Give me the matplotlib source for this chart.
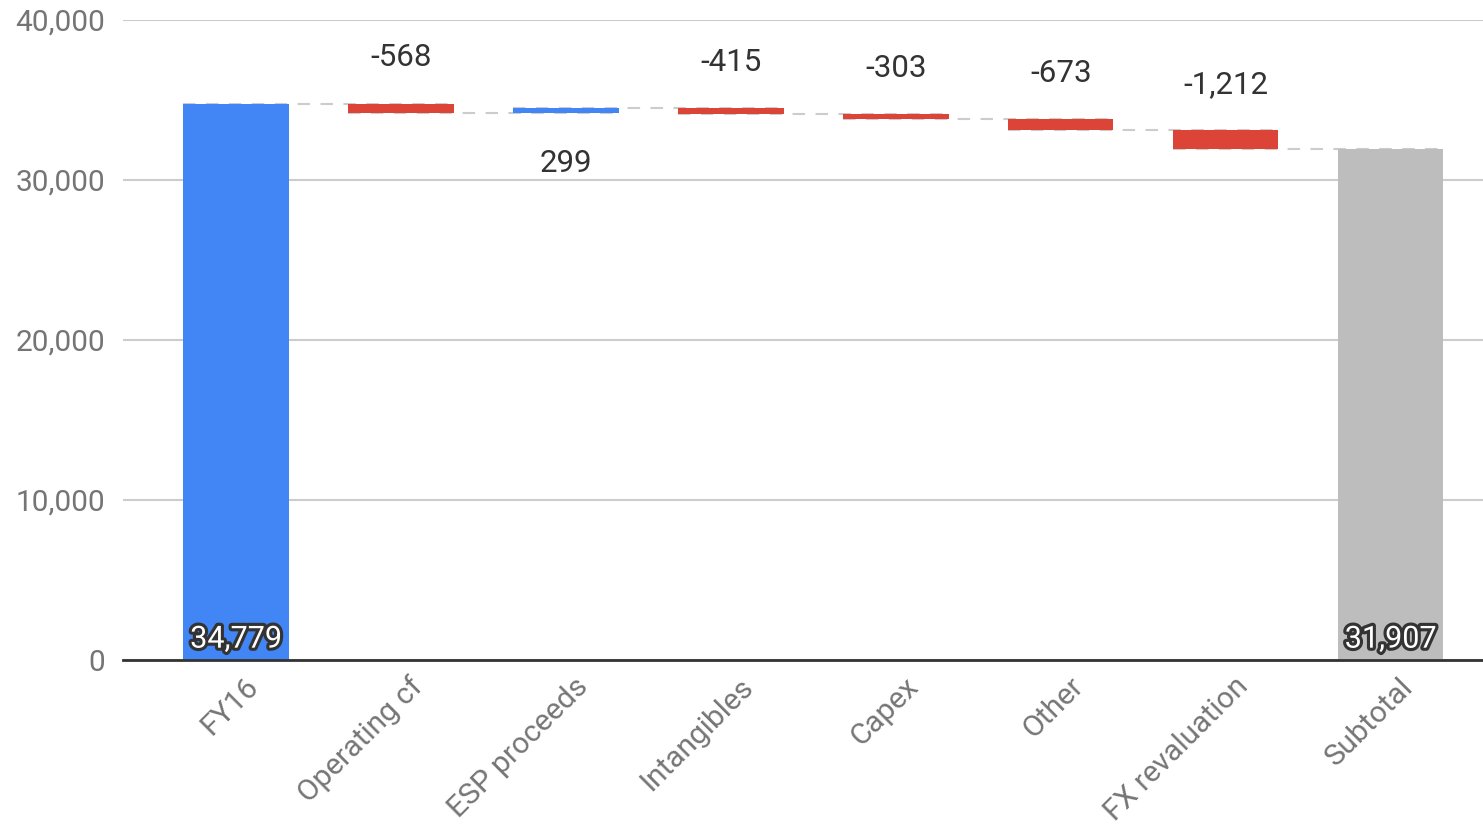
import matplotlib
matplotlib.use("Agg")
import matplotlib.pyplot as plt
import matplotlib.patheffects as pe
import matplotlib.transforms as mtransforms
from matplotlib.ticker import FuncFormatter

categories = ["FY16", "Operating cf", "ESP proceeds", "Intangibles", "Capex",
              "Other", "FX revaluation", "Subtotal"]
start_value = 34779
changes = [-568, 299, -415, -303, -673, -1212]
y_ticks = [0, 10000, 20000, 30000, 40000]

BLUE = "#4285F4"
RED = "#DB4437"
GREY = "#BDBDBD"

plt.rcParams["font.family"] = ["Roboto", "DejaVu Sans"]

fig = plt.figure(figsize=(14.83, 8.26), dpi=100)
ax = fig.add_axes([0.0829, 0.201, 0.9171, 0.7748])

width = 0.64
running = start_value
levels = [start_value]

# opening total
ax.bar(0, start_value, width=width, color=BLUE, zorder=3)

# step changes
for i, d in enumerate(changes, start=1):
    bottom = running if d >= 0 else running + d
    ax.bar(i, abs(d), bottom=bottom, width=width,
           color=BLUE if d >= 0 else RED, zorder=3)
    if d < 0:
        ax.text(i, running + 2850, f"{d:,}", ha="center", va="center",
                fontsize=22.5, color="#333333")
    else:
        ax.text(i, running - 3150, f"{d:,}", ha="center", va="center",
                fontsize=22.5, color="#333333")
    running += d
    levels.append(running)

# closing subtotal
n = len(categories) - 1
ax.bar(n, running, width=width, color=GREY, zorder=3)

# dashed connectors between consecutive bars
for i, lvl in enumerate(levels):
    ax.plot([i - width / 2, i + 1 + width / 2], [lvl, lvl], color="#CCCCCC",
            lw=1.5, ls=(0, (6, 5)), zorder=2)

# total labels inside bars
stroke = [pe.withStroke(linewidth=4.5, foreground="#333333")]
for x, v in [(0, start_value), (n, running)]:
    ax.text(x, 1300, f"{v:,}", ha="center", va="center", fontsize=22,
            color="white", path_effects=stroke, zorder=5)

ax.set_xlim(-0.685, 7.56)
ax.set_ylim(0, 40000)
ax.set_yticks(y_ticks)
ax.yaxis.set_major_formatter(FuncFormatter(lambda v, p: f"{int(v):,}"))
ax.grid(axis="y", color="#CCCCCC", lw=1.5, zorder=0)
ax.set_axisbelow(True)
for s in ["top", "right", "left"]:
    ax.spines[s].set_visible(False)
ax.spines["bottom"].set_color("#333333")
ax.spines["bottom"].set_linewidth(2)
ax.spines["bottom"].set_zorder(6)
ax.tick_params(axis="y", length=0, labelsize=21.5, labelcolor="#757575", pad=13)
ax.tick_params(axis="x", length=0, labelsize=21.5, labelcolor="#757575", pad=9)
ax.set_xticks(range(len(categories)))
ax.set_xticklabels(categories, rotation=45, ha="right", rotation_mode="anchor")
shift = mtransforms.ScaledTranslation(0.08, 0, fig.dpi_scale_trans)
for lbl in ax.get_xticklabels():
    lbl.set_transform(lbl.get_transform() + shift)

fig.savefig("out.png", dpi=100, facecolor="white")
